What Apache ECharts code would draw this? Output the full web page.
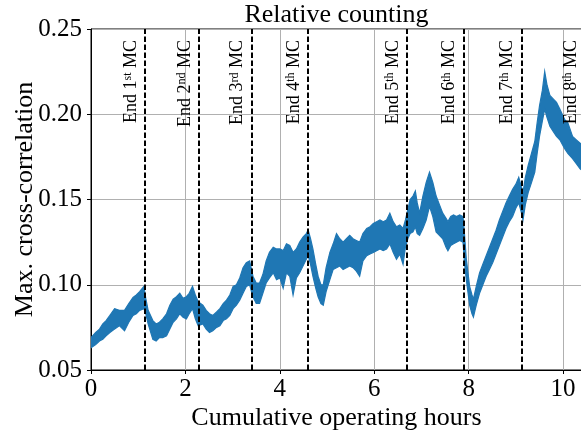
<!DOCTYPE html>
<html><head><meta charset="utf-8">
<script src="https://cdn.jsdelivr.net/npm/echarts@6/dist/echarts.min.js"></script>
<style>html,body{margin:0;padding:0;background:#fff}#c{width:581px;height:437px}</style>
</head><body><div id="c"></div>
<script>
const hours = [0.00,0.10,0.18,0.25,0.32,0.40,0.50,0.60,0.71,0.80,0.89,0.96,1.03,1.12,1.16,1.21,1.31,1.38,1.45,1.52,1.60,1.67,1.74,1.81,1.88,1.95,2.02,2.08,2.15,2.21,2.27,2.37,2.44,2.51,2.58,2.66,2.73,2.80,2.87,2.94,3.01,3.08,3.15,3.22,3.29,3.36,3.43,3.50,3.57,3.64,3.71,3.78,3.86,3.93,4.00,4.07,4.14,4.21,4.28,4.35,4.42,4.49,4.56,4.60,4.65,4.70,4.76,4.81,4.87,4.92,4.98,5.06,5.13,5.20,5.27,5.34,5.41,5.48,5.55,5.62,5.69,5.76,5.84,5.91,5.98,6.05,6.12,6.19,6.26,6.33,6.40,6.47,6.54,6.61,6.66,6.71,6.76,6.82,6.87,6.91,6.96,7.03,7.10,7.17,7.24,7.31,7.38,7.45,7.52,7.56,7.62,7.68,7.74,7.81,7.88,7.91,7.95,8.02,8.07,8.10,8.16,8.23,8.30,8.37,8.44,8.51,8.58,8.65,8.72,8.79,8.86,8.93,9.00,9.06,9.11,9.15,9.20,9.26,9.33,9.40,9.45,9.50,9.56,9.61,9.66,9.72,9.79,9.86,9.93,10.03,10.10,10.20,10.28,10.36,10.45];
const upper = [0.069,0.072,0.074,0.077,0.079,0.082,0.086,0.085,0.085,0.089,0.0925,0.094,0.096,0.099,0.092,0.085,0.079,0.077,0.078,0.080,0.083,0.088,0.0915,0.093,0.095,0.092,0.093,0.095,0.099,0.094,0.090,0.088,0.085,0.083,0.082,0.084,0.086,0.089,0.091,0.094,0.099,0.100,0.104,0.110,0.113,0.114,0.105,0.101,0.101,0.106,0.114,0.119,0.122,0.121,0.121,0.120,0.124,0.123,0.119,0.121,0.125,0.128,0.130,0.132,0.127,0.121,0.112,0.105,0.100,0.100,0.110,0.119,0.124,0.130,0.127,0.125,0.127,0.129,0.127,0.126,0.125,0.130,0.133,0.134,0.136,0.137,0.138,0.137,0.138,0.142,0.137,0.134,0.135,0.133,0.138,0.144,0.150,0.152,0.155,0.148,0.142,0.152,0.160,0.166,0.160,0.152,0.147,0.142,0.139,0.137,0.140,0.141,0.140,0.141,0.140,0.130,0.115,0.099,0.094,0.0915,0.099,0.107,0.112,0.117,0.122,0.127,0.132,0.138,0.143,0.148,0.152,0.156,0.159,0.163,0.158,0.154,0.163,0.170,0.177,0.184,0.195,0.205,0.214,0.225,0.217,0.211,0.209,0.207,0.203,0.197,0.195,0.187,0.185,0.183,0.180];
const lower = [0.063,0.065,0.067,0.068,0.070,0.072,0.074,0.076,0.073,0.078,0.082,0.083,0.085,0.086,0.083,0.077,0.068,0.067,0.069,0.069,0.070,0.074,0.078,0.080,0.083,0.081,0.080,0.083,0.086,0.080,0.076,0.077,0.074,0.072,0.073,0.075,0.076,0.079,0.080,0.082,0.086,0.088,0.091,0.095,0.099,0.100,0.093,0.089,0.089,0.095,0.101,0.104,0.107,0.103,0.104,0.098,0.107,0.105,0.094,0.104,0.107,0.111,0.115,0.117,0.112,0.105,0.098,0.093,0.089,0.088,0.096,0.103,0.109,0.110,0.111,0.109,0.110,0.111,0.110,0.108,0.105,0.114,0.117,0.118,0.119,0.120,0.121,0.120,0.121,0.124,0.119,0.115,0.118,0.112,0.122,0.127,0.130,0.131,0.134,0.130,0.129,0.133,0.138,0.146,0.140,0.131,0.129,0.127,0.122,0.120,0.123,0.124,0.125,0.126,0.125,0.113,0.103,0.088,0.083,0.081,0.088,0.095,0.100,0.105,0.109,0.113,0.118,0.123,0.128,0.133,0.137,0.140,0.145,0.148,0.143,0.138,0.147,0.154,0.160,0.166,0.177,0.187,0.196,0.203,0.198,0.193,0.190,0.187,0.185,0.180,0.177,0.174,0.171,0.168,0.166];
const endMC = [1.14,2.29,3.40,4.60,6.69,7.89,9.12,10.46];
const mcNumber = ['1','2','3','4','5','6','7','8'];
const mcSuffix = ['st','nd','rd','th','th','th','th','th'];
const yTicks = [0.05,0.10,0.15,0.20,0.25];
const xTicks = [0,2,4,6,8,10];

const FONT = '"Liberation Serif","Times New Roman",serif';
const BLUE = '#1f77b4';
const chart = echarts.init(document.getElementById('c'), null, {renderer:'canvas'});
const option = {
  animation:false,
  backgroundColor:'#fff',
  grid:{left:91, right:-1, top:29, bottom:67, containLabel:false, outerBoundsMode:'none',
    show:true, borderColor:'#000', borderWidth:1, backgroundColor:'transparent'},
  xAxis:{type:'value', min:0, max:10.40, interval:2,
    name:'Cumulative operating hours', nameLocation:'middle', nameGap:35, nameMoveOverlap:false,
    nameTextStyle:{fontFamily:FONT, fontSize:26, color:'#000'},
    axisLine:{show:true, lineStyle:{color:'#000', width:1}},
    axisTick:{show:true, length:4, lineStyle:{color:'#000'}},
    axisLabel:{fontFamily:FONT, fontSize:25, color:'#000', margin:7, showMaxLabel:false,
      formatter:v=> xTicks.includes(v) ? String(v) : ''},
    splitLine:{show:true, lineStyle:{color:'#b0b0b0', width:1}}},
  yAxis:{type:'value', min:0.05, max:0.25, interval:0.05,
    name:'Max. cross-correlation', nameLocation:'middle', nameGap:53, nameMoveOverlap:false,
    nameTextStyle:{fontFamily:FONT, fontSize:26, color:'#000'},
    axisLine:{show:true, lineStyle:{color:'#000', width:1}},
    axisTick:{show:true, length:4, lineStyle:{color:'#000'}},
    axisLabel:{fontFamily:FONT, fontSize:25, color:'#000', margin:9,
      formatter:v=> yTicks.some(t=>Math.abs(t-v)<1e-9) ? v.toFixed(2) : ''},
    splitLine:{show:true, lineStyle:{color:'#b0b0b0', width:1}}},
  series:[
    {type:'custom', clip:true, z:2, data:[[hours[0], lower[0]]],
      renderItem:function(params, api){
        const pts = [];
        for (let i=0;i<hours.length;i++) pts.push(api.coord([hours[i], upper[i]]));
        for (let i=hours.length-1;i>=0;i--) pts.push(api.coord([hours[i], lower[i]]));
        return {type:'polygon', shape:{points:pts}, style:{fill:BLUE, stroke:BLUE, lineWidth:1.2, lineJoin:'miter'}};
      }},
    {type:'line', data:[], z:5,
      markLine:{silent:true, symbol:'none', label:{show:false},
        lineStyle:{color:'#000', width:2, type:[5.5,2.5]},
        data:endMC.map(v=>({xAxis:v}))}}
  ]
};
chart.setOption(option);

function buildGraphics(){
  const g = [];
  const x0 = chart.convertToPixel({xAxisIndex:0}, 0);
  const x1 = chart.convertToPixel({xAxisIndex:0}, 10.40);
  const yTop = chart.convertToPixel({yAxisIndex:0}, 0.25);
  g.push({type:'text', x:(x0+x1)/2, y:yTop-1, silent:true,
    style:{text:'Relative counting', font:'26px '+FONT, fill:'#000', textAlign:'center', textVerticalAlign:'bottom'}});
  endMC.forEach((v,i)=>{
    const px = chart.convertToPixel({xAxisIndex:0}, v);
    g.push({type:'text', x:px-14, y:yTop+11, rotation:Math.PI/2, silent:true, z:10,
      style:{text:'{a|End '+mcNumber[i]+'}{s|'+mcSuffix[i]+'}{a| MC}', textAlign:'right', textVerticalAlign:'middle',
        rich:{a:{fontFamily:FONT, fontSize:18, fill:'#000', color:'#000'},
              s:{fontFamily:FONT, fontSize:12, fill:'#000', color:'#000', verticalAlign:'top'}}}});
  });
  chart.setOption({graphic:g});
}
buildGraphics();
</script></body></html>
